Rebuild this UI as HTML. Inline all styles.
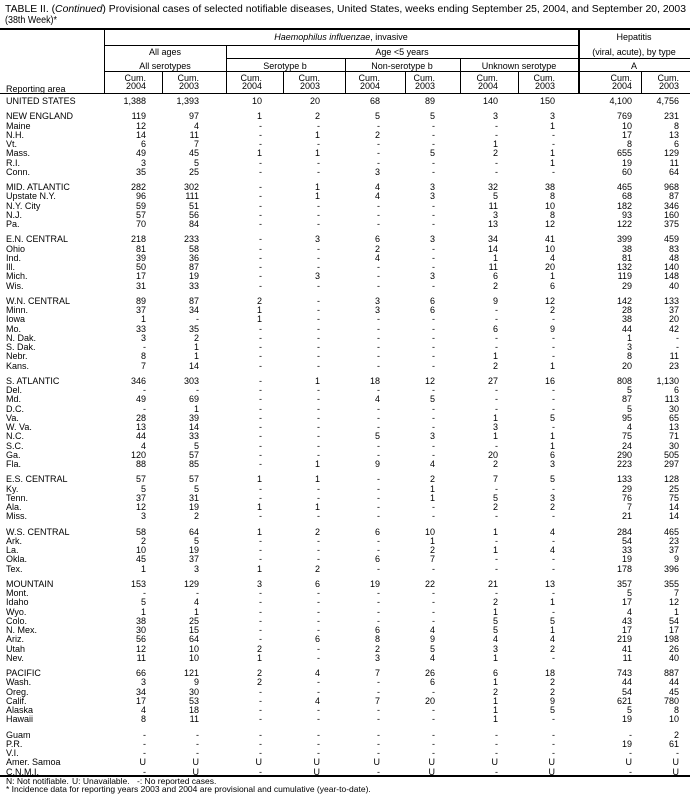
<!DOCTYPE html>
<html><head><meta charset="utf-8"><style>
*{margin:0;padding:0;box-sizing:border-box}
body{width:690px;height:804px;background:#fff;position:relative;overflow:hidden;font-family:"Liberation Sans",Arial,sans-serif;color:#000;font-size:9px}
.r{position:absolute;left:0;height:10px;line-height:10px;white-space:nowrap}
.r span{display:inline-block;text-align:right}
.r span:nth-child(1){width:104px;text-align:left;padding-left:6px}
.r span:nth-child(2){width:42px}.r span:nth-child(3){width:53px}.r span:nth-child(4){width:63px}
.r span:nth-child(5){width:58px}.r span:nth-child(6){width:60px}.r span:nth-child(7){width:55px}
.r span:nth-child(8){width:63px}.r span:nth-child(9){width:57px}.r span:nth-child(10){width:77px}
.r span:nth-child(11){width:47px}
.h{position:absolute;background:#000;height:1px}
.v{position:absolute;background:#000;width:1px}
.t{position:absolute;white-space:nowrap;line-height:10px;font-size:9px}
.c{transform:translateX(-50%)}
</style></head><body>
<svg width="690" height="28" style="position:absolute;left:0;top:0" font-family="Liberation Sans, Arial, sans-serif" font-size="10">
<text x="5" y="12" textLength="681" lengthAdjust="spacingAndGlyphs">TABLE II. (<tspan font-style="italic">Continued</tspan>) Provisional cases of selected notifiable diseases, United States, weeks ending September 25, 2004, and September 20, 2003</text>
<text x="5" y="23" textLength="52" lengthAdjust="spacingAndGlyphs">(38th Week)*</text>
</svg>
<div class="h" style="left:0;top:28px;width:690px;height:2px"></div>
<div class="h" style="left:104px;top:45px;width:474px"></div>
<div class="h" style="left:226px;top:58px;width:464px"></div>
<div class="h" style="left:104px;top:71px;width:586px"></div>
<div class="h" style="left:0;top:93px;width:690px"></div>
<div class="v" style="left:104px;top:29px;height:64px"></div>
<div class="v" style="left:162px;top:71px;height:22px"></div>
<div class="v" style="left:226px;top:45px;height:48px"></div>
<div class="v" style="left:283px;top:71px;height:22px"></div>
<div class="v" style="left:345px;top:58px;height:35px"></div>
<div class="v" style="left:405px;top:71px;height:22px"></div>
<div class="v" style="left:460px;top:58px;height:35px"></div>
<div class="v" style="left:518px;top:71px;height:22px"></div>
<div class="v" style="left:578px;top:29px;height:64px;width:2px"></div>
<div class="v" style="left:641px;top:71px;height:22px"></div>

<div class="t c" style="left:341px;top:32px"><i>Haemophilus influenzae</i>, invasive</div>
<div class="t c" style="left:634px;top:32px">Hepatitis</div>
<div class="t c" style="left:165px;top:47px">All ages</div>
<div class="t c" style="left:402px;top:47px">Age &lt;5 years</div>
<div class="t c" style="left:634px;top:47px">(viral, acute), by type</div>
<div class="t c" style="left:165px;top:61px">All serotypes</div>
<div class="t c" style="left:285px;top:61px">Serotype b</div>
<div class="t c" style="left:402px;top:61px">Non-serotype b</div>
<div class="t c" style="left:519px;top:61px">Unknown serotype</div>
<div class="t c" style="left:634px;top:61px">A</div>
<div class="t" style="left:6px;top:84px">Reporting area</div>
<div class="r" style="top:74px;line-height:8px"><span></span><span>Cum.</span><span>Cum.</span><span>Cum.</span><span>Cum.</span><span>Cum.</span><span>Cum.</span><span>Cum.</span><span>Cum.</span><span>Cum.</span><span>Cum.</span></div>
<div class="r" style="top:82px;line-height:8px"><span></span><span>2004</span><span>2003</span><span>2004</span><span>2003</span><span>2004</span><span>2003</span><span>2004</span><span>2003</span><span>2004</span><span>2003</span></div>

<div class="r" style="top:96px"><span>UNITED STATES</span><span>1,388</span><span>1,393</span><span>10</span><span>20</span><span>68</span><span>89</span><span>140</span><span>150</span><span>4,100</span><span>4,756</span></div>
<div class="r" style="top:111.25px"><span>NEW ENGLAND</span><span>119</span><span>97</span><span>1</span><span>2</span><span>5</span><span>5</span><span>3</span><span>3</span><span>769</span><span>231</span></div>
<div class="r" style="top:120.5px"><span>Maine</span><span>12</span><span>4</span><span>-</span><span>-</span><span>-</span><span>-</span><span>-</span><span>1</span><span>10</span><span>8</span></div>
<div class="r" style="top:129.75px"><span>N.H.</span><span>14</span><span>11</span><span>-</span><span>1</span><span>2</span><span>-</span><span>-</span><span>-</span><span>17</span><span>13</span></div>
<div class="r" style="top:139px"><span>Vt.</span><span>6</span><span>7</span><span>-</span><span>-</span><span>-</span><span>-</span><span>1</span><span>-</span><span>8</span><span>6</span></div>
<div class="r" style="top:148.25px"><span>Mass.</span><span>49</span><span>45</span><span>1</span><span>1</span><span>-</span><span>5</span><span>2</span><span>1</span><span>655</span><span>129</span></div>
<div class="r" style="top:157.5px"><span>R.I.</span><span>3</span><span>5</span><span>-</span><span>-</span><span>-</span><span>-</span><span>-</span><span>1</span><span>19</span><span>11</span></div>
<div class="r" style="top:166.75px"><span>Conn.</span><span>35</span><span>25</span><span>-</span><span>-</span><span>3</span><span>-</span><span>-</span><span>-</span><span>60</span><span>64</span></div>
<div class="r" style="top:182px"><span>MID. ATLANTIC</span><span>282</span><span>302</span><span>-</span><span>1</span><span>4</span><span>3</span><span>32</span><span>38</span><span>465</span><span>968</span></div>
<div class="r" style="top:191.25px"><span>Upstate N.Y.</span><span>96</span><span>111</span><span>-</span><span>1</span><span>4</span><span>3</span><span>5</span><span>8</span><span>68</span><span>87</span></div>
<div class="r" style="top:200.5px"><span>N.Y. City</span><span>59</span><span>51</span><span>-</span><span>-</span><span>-</span><span>-</span><span>11</span><span>10</span><span>182</span><span>346</span></div>
<div class="r" style="top:209.75px"><span>N.J.</span><span>57</span><span>56</span><span>-</span><span>-</span><span>-</span><span>-</span><span>3</span><span>8</span><span>93</span><span>160</span></div>
<div class="r" style="top:219px"><span>Pa.</span><span>70</span><span>84</span><span>-</span><span>-</span><span>-</span><span>-</span><span>13</span><span>12</span><span>122</span><span>375</span></div>
<div class="r" style="top:234.25px"><span>E.N. CENTRAL</span><span>218</span><span>233</span><span>-</span><span>3</span><span>6</span><span>3</span><span>34</span><span>41</span><span>399</span><span>459</span></div>
<div class="r" style="top:243.5px"><span>Ohio</span><span>81</span><span>58</span><span>-</span><span>-</span><span>2</span><span>-</span><span>14</span><span>10</span><span>38</span><span>83</span></div>
<div class="r" style="top:252.75px"><span>Ind.</span><span>39</span><span>36</span><span>-</span><span>-</span><span>4</span><span>-</span><span>1</span><span>4</span><span>81</span><span>48</span></div>
<div class="r" style="top:262px"><span>Ill.</span><span>50</span><span>87</span><span>-</span><span>-</span><span>-</span><span>-</span><span>11</span><span>20</span><span>132</span><span>140</span></div>
<div class="r" style="top:271.25px"><span>Mich.</span><span>17</span><span>19</span><span>-</span><span>3</span><span>-</span><span>3</span><span>6</span><span>1</span><span>119</span><span>148</span></div>
<div class="r" style="top:280.5px"><span>Wis.</span><span>31</span><span>33</span><span>-</span><span>-</span><span>-</span><span>-</span><span>2</span><span>6</span><span>29</span><span>40</span></div>
<div class="r" style="top:295.75px"><span>W.N. CENTRAL</span><span>89</span><span>87</span><span>2</span><span>-</span><span>3</span><span>6</span><span>9</span><span>12</span><span>142</span><span>133</span></div>
<div class="r" style="top:305px"><span>Minn.</span><span>37</span><span>34</span><span>1</span><span>-</span><span>3</span><span>6</span><span>-</span><span>2</span><span>28</span><span>37</span></div>
<div class="r" style="top:314.25px"><span>Iowa</span><span>1</span><span>-</span><span>1</span><span>-</span><span>-</span><span>-</span><span>-</span><span>-</span><span>38</span><span>20</span></div>
<div class="r" style="top:323.5px"><span>Mo.</span><span>33</span><span>35</span><span>-</span><span>-</span><span>-</span><span>-</span><span>6</span><span>9</span><span>44</span><span>42</span></div>
<div class="r" style="top:332.75px"><span>N. Dak.</span><span>3</span><span>2</span><span>-</span><span>-</span><span>-</span><span>-</span><span>-</span><span>-</span><span>1</span><span>-</span></div>
<div class="r" style="top:342px"><span>S. Dak.</span><span>-</span><span>1</span><span>-</span><span>-</span><span>-</span><span>-</span><span>-</span><span>-</span><span>3</span><span>-</span></div>
<div class="r" style="top:351.25px"><span>Nebr.</span><span>8</span><span>1</span><span>-</span><span>-</span><span>-</span><span>-</span><span>1</span><span>-</span><span>8</span><span>11</span></div>
<div class="r" style="top:360.5px"><span>Kans.</span><span>7</span><span>14</span><span>-</span><span>-</span><span>-</span><span>-</span><span>2</span><span>1</span><span>20</span><span>23</span></div>
<div class="r" style="top:375.75px"><span>S. ATLANTIC</span><span>346</span><span>303</span><span>-</span><span>1</span><span>18</span><span>12</span><span>27</span><span>16</span><span>808</span><span>1,130</span></div>
<div class="r" style="top:385px"><span>Del.</span><span>-</span><span>-</span><span>-</span><span>-</span><span>-</span><span>-</span><span>-</span><span>-</span><span>5</span><span>6</span></div>
<div class="r" style="top:394.25px"><span>Md.</span><span>49</span><span>69</span><span>-</span><span>-</span><span>4</span><span>5</span><span>-</span><span>-</span><span>87</span><span>113</span></div>
<div class="r" style="top:403.5px"><span>D.C.</span><span>-</span><span>1</span><span>-</span><span>-</span><span>-</span><span>-</span><span>-</span><span>-</span><span>5</span><span>30</span></div>
<div class="r" style="top:412.75px"><span>Va.</span><span>28</span><span>39</span><span>-</span><span>-</span><span>-</span><span>-</span><span>1</span><span>5</span><span>95</span><span>65</span></div>
<div class="r" style="top:422px"><span>W. Va.</span><span>13</span><span>14</span><span>-</span><span>-</span><span>-</span><span>-</span><span>3</span><span>-</span><span>4</span><span>13</span></div>
<div class="r" style="top:431.25px"><span>N.C.</span><span>44</span><span>33</span><span>-</span><span>-</span><span>5</span><span>3</span><span>1</span><span>1</span><span>75</span><span>71</span></div>
<div class="r" style="top:440.5px"><span>S.C.</span><span>4</span><span>5</span><span>-</span><span>-</span><span>-</span><span>-</span><span>-</span><span>1</span><span>24</span><span>30</span></div>
<div class="r" style="top:449.75px"><span>Ga.</span><span>120</span><span>57</span><span>-</span><span>-</span><span>-</span><span>-</span><span>20</span><span>6</span><span>290</span><span>505</span></div>
<div class="r" style="top:459px"><span>Fla.</span><span>88</span><span>85</span><span>-</span><span>1</span><span>9</span><span>4</span><span>2</span><span>3</span><span>223</span><span>297</span></div>
<div class="r" style="top:474.25px"><span>E.S. CENTRAL</span><span>57</span><span>57</span><span>1</span><span>1</span><span>-</span><span>2</span><span>7</span><span>5</span><span>133</span><span>128</span></div>
<div class="r" style="top:483.5px"><span>Ky.</span><span>5</span><span>5</span><span>-</span><span>-</span><span>-</span><span>1</span><span>-</span><span>-</span><span>29</span><span>25</span></div>
<div class="r" style="top:492.75px"><span>Tenn.</span><span>37</span><span>31</span><span>-</span><span>-</span><span>-</span><span>1</span><span>5</span><span>3</span><span>76</span><span>75</span></div>
<div class="r" style="top:502px"><span>Ala.</span><span>12</span><span>19</span><span>1</span><span>1</span><span>-</span><span>-</span><span>2</span><span>2</span><span>7</span><span>14</span></div>
<div class="r" style="top:511.25px"><span>Miss.</span><span>3</span><span>2</span><span>-</span><span>-</span><span>-</span><span>-</span><span>-</span><span>-</span><span>21</span><span>14</span></div>
<div class="r" style="top:526.5px"><span>W.S. CENTRAL</span><span>58</span><span>64</span><span>1</span><span>2</span><span>6</span><span>10</span><span>1</span><span>4</span><span>284</span><span>465</span></div>
<div class="r" style="top:535.75px"><span>Ark.</span><span>2</span><span>5</span><span>-</span><span>-</span><span>-</span><span>1</span><span>-</span><span>-</span><span>54</span><span>23</span></div>
<div class="r" style="top:545px"><span>La.</span><span>10</span><span>19</span><span>-</span><span>-</span><span>-</span><span>2</span><span>1</span><span>4</span><span>33</span><span>37</span></div>
<div class="r" style="top:554.25px"><span>Okla.</span><span>45</span><span>37</span><span>-</span><span>-</span><span>6</span><span>7</span><span>-</span><span>-</span><span>19</span><span>9</span></div>
<div class="r" style="top:563.5px"><span>Tex.</span><span>1</span><span>3</span><span>1</span><span>2</span><span>-</span><span>-</span><span>-</span><span>-</span><span>178</span><span>396</span></div>
<div class="r" style="top:578.75px"><span>MOUNTAIN</span><span>153</span><span>129</span><span>3</span><span>6</span><span>19</span><span>22</span><span>21</span><span>13</span><span>357</span><span>355</span></div>
<div class="r" style="top:588px"><span>Mont.</span><span>-</span><span>-</span><span>-</span><span>-</span><span>-</span><span>-</span><span>-</span><span>-</span><span>5</span><span>7</span></div>
<div class="r" style="top:597.25px"><span>Idaho</span><span>5</span><span>4</span><span>-</span><span>-</span><span>-</span><span>-</span><span>2</span><span>1</span><span>17</span><span>12</span></div>
<div class="r" style="top:606.5px"><span>Wyo.</span><span>1</span><span>1</span><span>-</span><span>-</span><span>-</span><span>-</span><span>1</span><span>-</span><span>4</span><span>1</span></div>
<div class="r" style="top:615.75px"><span>Colo.</span><span>38</span><span>25</span><span>-</span><span>-</span><span>-</span><span>-</span><span>5</span><span>5</span><span>43</span><span>54</span></div>
<div class="r" style="top:625px"><span>N. Mex.</span><span>30</span><span>15</span><span>-</span><span>-</span><span>6</span><span>4</span><span>5</span><span>1</span><span>17</span><span>17</span></div>
<div class="r" style="top:634.25px"><span>Ariz.</span><span>56</span><span>64</span><span>-</span><span>6</span><span>8</span><span>9</span><span>4</span><span>4</span><span>219</span><span>198</span></div>
<div class="r" style="top:643.5px"><span>Utah</span><span>12</span><span>10</span><span>2</span><span>-</span><span>2</span><span>5</span><span>3</span><span>2</span><span>41</span><span>26</span></div>
<div class="r" style="top:652.75px"><span>Nev.</span><span>11</span><span>10</span><span>1</span><span>-</span><span>3</span><span>4</span><span>1</span><span>-</span><span>11</span><span>40</span></div>
<div class="r" style="top:668px"><span>PACIFIC</span><span>66</span><span>121</span><span>2</span><span>4</span><span>7</span><span>26</span><span>6</span><span>18</span><span>743</span><span>887</span></div>
<div class="r" style="top:677.25px"><span>Wash.</span><span>3</span><span>9</span><span>2</span><span>-</span><span>-</span><span>6</span><span>1</span><span>2</span><span>44</span><span>44</span></div>
<div class="r" style="top:686.5px"><span>Oreg.</span><span>34</span><span>30</span><span>-</span><span>-</span><span>-</span><span>-</span><span>2</span><span>2</span><span>54</span><span>45</span></div>
<div class="r" style="top:695.75px"><span>Calif.</span><span>17</span><span>53</span><span>-</span><span>4</span><span>7</span><span>20</span><span>1</span><span>9</span><span>621</span><span>780</span></div>
<div class="r" style="top:705px"><span>Alaska</span><span>4</span><span>18</span><span>-</span><span>-</span><span>-</span><span>-</span><span>1</span><span>5</span><span>5</span><span>8</span></div>
<div class="r" style="top:714.25px"><span>Hawaii</span><span>8</span><span>11</span><span>-</span><span>-</span><span>-</span><span>-</span><span>1</span><span>-</span><span>19</span><span>10</span></div>
<div class="r" style="top:729.5px"><span>Guam</span><span>-</span><span>-</span><span>-</span><span>-</span><span>-</span><span>-</span><span>-</span><span>-</span><span>-</span><span>2</span></div>
<div class="r" style="top:738.75px"><span>P.R.</span><span>-</span><span>-</span><span>-</span><span>-</span><span>-</span><span>-</span><span>-</span><span>-</span><span>19</span><span>61</span></div>
<div class="r" style="top:748px"><span>V.I.</span><span>-</span><span>-</span><span>-</span><span>-</span><span>-</span><span>-</span><span>-</span><span>-</span><span>-</span><span>-</span></div>
<div class="r" style="top:757.25px"><span>Amer. Samoa</span><span>U</span><span>U</span><span>U</span><span>U</span><span>U</span><span>U</span><span>U</span><span>U</span><span>U</span><span>U</span></div>
<div class="r" style="top:766.5px"><span>C.N.M.I.</span><span>-</span><span>U</span><span>-</span><span>U</span><span>-</span><span>U</span><span>-</span><span>U</span><span>-</span><span>U</span></div>
<div class="h" style="left:0;top:775px;width:690px;height:2px"></div>
<div class="t" style="left:6px;top:777px;font-size:8.5px;line-height:9px">N: Not notifiable.</div>
<div class="t" style="left:72px;top:777px;font-size:8.5px;line-height:9px">U: Unavailable.</div>
<div class="t" style="left:137px;top:777px;font-size:8.5px;line-height:9px">-: No reported cases.</div>
<div class="t" style="left:6px;top:785px;font-size:8.5px;line-height:9px">* Incidence data for reporting years 2003 and 2004 are provisional and cumulative (year-to-date).</div>
</body></html>
